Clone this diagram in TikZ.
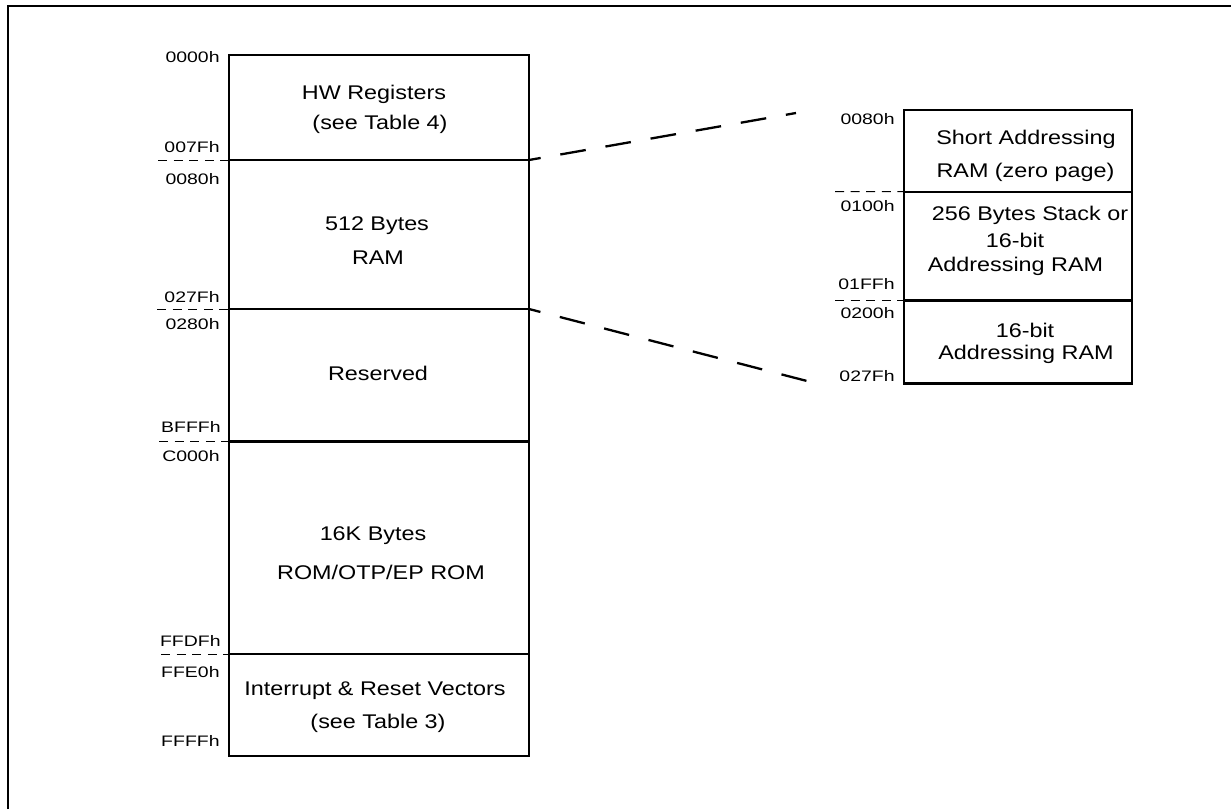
\documentclass[tikz,border=0pt]{standalone}
\usepackage{fontspec}
\newfontfamily\mainf[FakeStretch=1.18]{Liberation Sans}
\newfontfamily\labf[FakeStretch=1.28]{Liberation Sans}
\begin{document}
\begin{tikzpicture}[x=0.5pt,y=-0.5pt,
  region/.style={draw,line width=1.2pt,inner sep=0pt,outer sep=0pt,rectangle},
  txt/.style={inner sep=0pt,anchor=base,yshift=-3.5pt,font=\mainf\fontsize{9.9}{11}\selectfont},
  lab/.style={inner sep=0pt,anchor=base east,yshift=-2.7pt,font=\labf\fontsize{7.6}{8.5}\selectfont},
  tick/.style={line width=0.5pt,dash pattern=on 4.5pt off 3.3pt},
  zoomline/.style={line width=1.15pt,dash pattern=on 12.9pt off 10pt,dash phase=7pt}]
\useasboundingbox (0,0) rectangle (1231,809);
% frame
\draw[line width=1.25pt] (7.8,809) -- (7.8,6) -- (1231,6);
% left memory map
\node[region,minimum width=150pt,minimum height=52.5pt] (hw) at (379,107.5) {};
\node[region,minimum width=150pt,minimum height=74.5pt] (ram) at (379,234.5) {};
\node[region,minimum width=150pt,minimum height=66.25pt] (res) at (379,375.25) {};
\node[region,minimum width=150pt,minimum height=106.25pt] (rom) at (379,547.75) {};
\node[region,minimum width=150pt,minimum height=51pt] (vec) at (379,705) {};
% left texts
\node[txt] (t1) at (374,92) {HW Registers};
\node[txt] (t2) at (380,122) {(see Table 4)};
\node[txt] (t3) at (377,223) {512 Bytes};
\node[txt] (t4) at (378,257) {RAM};
\node[txt] (t5) at (378,373) {Reserved};
\node[txt] (t6) at (373,533) {16K Bytes};
\node[txt] (t7) at (381,572) {ROM/OTP/EP ROM};
\node[txt] (t8) at (375,688) {Interrupt \& Reset Vectors};
\node[txt] (t9) at (378,721) {(see Table 3)};
% left labels
\node[lab] (a1) at (220,57) {0000h};
\node[lab] (a2) at (220,147) {007Fh};
\node[lab] (a3) at (220,179) {0080h};
\node[lab] (a4) at (220,297) {027Fh};
\node[lab] (a5) at (220,324) {0280h};
\node[lab] (a6) at (221,427) {BFFFh};
\node[lab] (a7) at (220,456) {C000h};
\node[lab] (a8) at (221,641) {FFDFh};
\node[lab] (a9) at (220,672) {FFE0h};
\node[lab] (a10) at (220,741) {FFFFh};
% left ticks
\coordinate (k1) at (158,160);
\coordinate (k2) at (157,309);
\coordinate (k3) at (159,441.5);
\coordinate (k4) at (161,654);
\draw[tick] (k1) -- (ram.north west);
\draw[tick] (k2) -- (res.north west);
\draw[tick] (k3) -- (rom.north west);
\draw[tick] (k4) -- (vec.north west);
% right memory map
\node[region,minimum width=114pt,minimum height=40.85pt] (zp) at (1018,150.85) {};
\node[region,minimum width=114pt,minimum height=54.4pt] (stk) at (1018,246.1) {};
\node[region,minimum width=114pt,minimum height=41.4pt] (r16) at (1018,341.9) {};
% right texts
\node[txt] (s1) at (1026,137) {Short Addressing};
\node[txt] (s2) at (1025.5,170) {RAM (zero page)};
\node[txt] (s3) at (1030,213) {256 Bytes Stack or};
\node[txt] (s4) at (1015,240) {16-bit};
\node[txt] (s5) at (1015.5,264) {Addressing RAM};
\node[txt] (s6) at (1025,330) {16-bit};
\node[txt] (s7) at (1026,352) {Addressing RAM};
% right labels
\node[lab] (b1) at (895,119) {0080h};
\node[lab] (b2) at (895,206.5) {0100h};
\node[lab] (b3) at (895,284) {01FFh};
\node[lab] (b4) at (895,313) {0200h};
\node[lab] (b5) at (895,376) {027Fh};
% right ticks
\coordinate (m1) at (835,191.7);
\coordinate (m2) at (835,300.5);
\draw[tick] (m1) -- (stk.north west);
\draw[tick] (m2) -- (r16.north west);
% zoom lines
\coordinate (z1) at (796,113);
\coordinate (z2) at (807,381);
\draw[zoomline] (ram.north east) -- (z1);
\draw[zoomline] (ram.south east) -- (z2);
\end{tikzpicture}
\end{document}
